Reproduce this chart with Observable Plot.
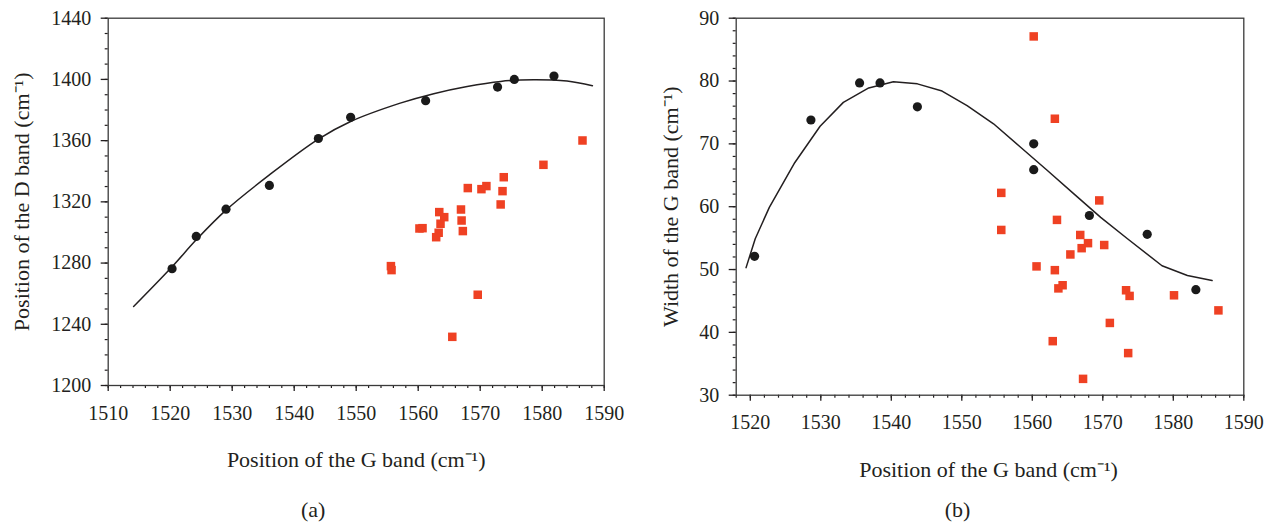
<!DOCTYPE html>
<html><head><meta charset="utf-8">
<script src="https://cdn.jsdelivr.net/npm/d3@7"></script>
<script src="https://cdn.jsdelivr.net/npm/@observablehq/plot@0.6"></script>
<style>
body{margin:0;background:#fff}
#wrap{position:relative;width:1275px;height:524px;overflow:hidden}
.p{position:absolute;top:0}
</style>
</head><body>
<div id="wrap"><div class="p" id="pa" style="left:0"></div><div class="p" id="pb" style="left:637px"></div></div>
<script>
// ---- Panel (a): Position of D band vs position of G band ----
const aBlackG = [1520.3, 1524.2, 1529.0, 1536.0, 1543.9, 1549.1, 1561.2, 1572.8, 1575.5, 1581.9];
const aBlackD = [1276.3, 1297.4, 1315.2, 1330.7, 1361.4, 1375.2, 1386.1, 1395.0, 1400.0, 1402.2];
const aRedG = [1586.5, 1580.2, 1573.8, 1573.6, 1573.3, 1571.0, 1570.2, 1568.0, 1566.9, 1567.0, 1567.2,
               1563.4, 1564.2, 1563.6, 1563.3, 1562.9, 1560.2, 1560.7, 1555.6, 1555.7, 1569.6, 1565.5];
const aRedD = [1360.1, 1344.2, 1336.1, 1327.0, 1318.3, 1330.3, 1328.3, 1329.0, 1315.0, 1307.8, 1300.9,
               1313.3, 1310.0, 1305.7, 1299.8, 1296.9, 1302.6, 1302.8, 1278.0, 1275.4, 1259.3, 1231.8];
const aFitG = [1514.1, 1520.3, 1524.2, 1529.0, 1536.0, 1543.9, 1549.1, 1557.1, 1562.5, 1567.9, 1573.3, 1578.6, 1584.0, 1588.1];
const aFitD = [1251.6, 1277.6, 1295.2, 1314.6, 1337.6, 1361.0, 1372.5, 1384.5, 1390.7, 1395.4, 1398.7, 1399.8, 1398.9, 1395.9];
const aXTicks = [1510, 1520, 1530, 1540, 1550, 1560, 1570, 1580, 1590];
const aYTicks = [1200, 1240, 1280, 1320, 1360, 1400, 1440];

// ---- Panel (b): Width of G band vs position of G band ----
const bBlackG = [1520.6, 1528.6, 1535.5, 1538.4, 1543.7, 1560.2, 1560.2, 1568.1, 1576.3, 1583.2];
const bBlackW = [52.1, 73.8, 79.7, 79.7, 75.9, 70.0, 65.9, 58.6, 55.6, 46.8];
const bRedG = [1560.2, 1563.2, 1555.6, 1555.6, 1563.5, 1569.5, 1566.8, 1567.9, 1567.0, 1570.2, 1565.4,
               1560.6, 1563.2, 1564.3, 1563.7, 1573.3, 1573.8, 1580.1, 1586.4, 1571.0, 1562.9, 1573.6, 1567.2];
const bRedW = [87.1, 74.0, 62.2, 56.3, 57.9, 61.0, 55.5, 54.2, 53.4, 53.9, 52.4,
               50.5, 49.9, 47.5, 47.0, 46.7, 45.8, 45.9, 43.5, 41.5, 38.6, 36.7, 32.6];
const bFitG = [1519.4, 1520.7, 1522.7, 1526.3, 1529.9, 1533.2, 1536.8, 1540.3, 1543.7, 1547.2, 1550.75,
               1554.5, 1558.3, 1562.1, 1565.9, 1569.7, 1573.5, 1578.4, 1582.0, 1585.5];
const bFitW = [50.3, 54.9, 59.9, 67.0, 72.8, 76.6, 78.9, 79.9, 79.55, 78.4, 76.1,
               73.2, 69.5, 65.8, 62.05, 58.3, 54.9, 50.6, 49.05, 48.25];
const bXTicks = [1520, 1530, 1540, 1550, 1560, 1570, 1580, 1590];
const bYTicks = [30, 40, 50, 60, 70, 80, 90];

const xLabel = "Position of the G band (cm\u207B\u00B9)";
const aYLabel = "Position of the D band (cm\u207B\u00B9)";
const bYLabel = "Width of the G band (cm\u207B\u00B9)";

const INK = "#231f20", RED = "#ef4123", FONT = "'Liberation Serif', 'Times New Roman', serif";
const TICKFS = 20, TITLEFS = 22;

function panel({width, height, mL, mR, mT, mB, xDom, yDom, xT, yT, xMinor, yMinor,
                blackG, blackV, redG, redV, fitG, fitV, curve, yLabel, yLabelDx, xLabelDx, xLabelDy, cap, capDx, capDy}) {
  return Plot.plot({
    width, height, marginLeft: mL, marginRight: mR, marginTop: mT, marginBottom: mB,
    style: {fontFamily: FONT, fontSize: TICKFS + "px", color: INK, background: "white"},
    x: {domain: xDom}, y: {domain: yDom},
    marks: [
      Plot.axisX(xMinor, {tickSize: 3, text: null, stroke: INK, strokeWidth: 1.2}),
      Plot.axisY(yMinor, {tickSize: 3, text: null, stroke: INK, strokeWidth: 1.2}),
      Plot.axisX(xT, {tickSize: 6, tickPadding: 14, tickFormat: d3.format("d"), fontSize: TICKFS, fontFamily: FONT, stroke: INK, strokeWidth: 1.3, fill: INK, label: null}),
      Plot.axisY(yT, {tickSize: 7, tickPadding: 10, tickFormat: d3.format("d"), fontSize: TICKFS, fontFamily: FONT, stroke: INK, strokeWidth: 1.3, fill: INK, label: null}),
      Plot.frame({stroke: "#3a3a3a", strokeWidth: 1.3}),
      Plot.line(fitG, {x: fitG, y: fitV, curve, stroke: INK, strokeWidth: 1.5}),
      Plot.dot(redG, {x: redG, y: redV, symbol: "square", r: 4.8, fill: RED, stroke: "none"}),
      Plot.dot(blackG, {x: blackG, y: blackV, r: 4.6, fill: "#1a1a1a", stroke: "none"}),
      Plot.text([yLabel], {frameAnchor: "left", textAnchor: "middle", lineAnchor: "middle", rotate: -90, dx: yLabelDx, fontSize: TITLEFS, fontFamily: FONT, fill: INK}),
      Plot.text([xLabel], {frameAnchor: "bottom", textAnchor: "middle", lineAnchor: "middle", dx: xLabelDx, dy: xLabelDy, fontSize: TITLEFS, fontFamily: FONT, fill: INK}),
      Plot.text([cap], {frameAnchor: "bottom", textAnchor: "middle", lineAnchor: "middle", dx: capDx, dy: capDy, fontSize: TITLEFS, fontFamily: FONT, fill: INK})
    ]
  });
}

document.getElementById("pa").append(panel({
  width: 637, height: 524, mL: 107.7, mR: 33.3, mT: 17.7, mB: 139,
  xDom: [1510, 1590], yDom: [1200, 1440], xT: aXTicks, yT: aYTicks,
  xMinor: d3.range(1510, 1591, 2), yMinor: d3.range(1200, 1441, 10),
  blackG: aBlackG, blackV: aBlackD, redG: aRedG, redV: aRedD, fitG: aFitG, fitV: aFitD, curve: "catmull-rom",
  yLabel: aYLabel, yLabelDx: -86, xLabelDx: 0, xLabelDy: 74, cap: "(a)", capDx: -43, capDy: 124
}));

document.getElementById("pb").append(panel({
  width: 638, height: 524, mL: 98.7, mR: 31.7, mT: 17.7, mB: 129.3,
  xDom: [1518, 1590], yDom: [30, 90], xT: bXTicks, yT: bYTicks,
  xMinor: d3.range(1518, 1591, 2), yMinor: d3.range(30, 91, 2),
  blackG: bBlackG, blackV: bBlackW, redG: bRedG, redV: bRedW, fitG: bFitG, fitV: bFitW, curve: "linear",
  yLabel: bYLabel, yLabelDx: -65, xLabelDx: -1.5, xLabelDy: 74.5, cap: "(b)", capDx: -32.5, capDy: 114.3
}));
</script>
</body></html>
